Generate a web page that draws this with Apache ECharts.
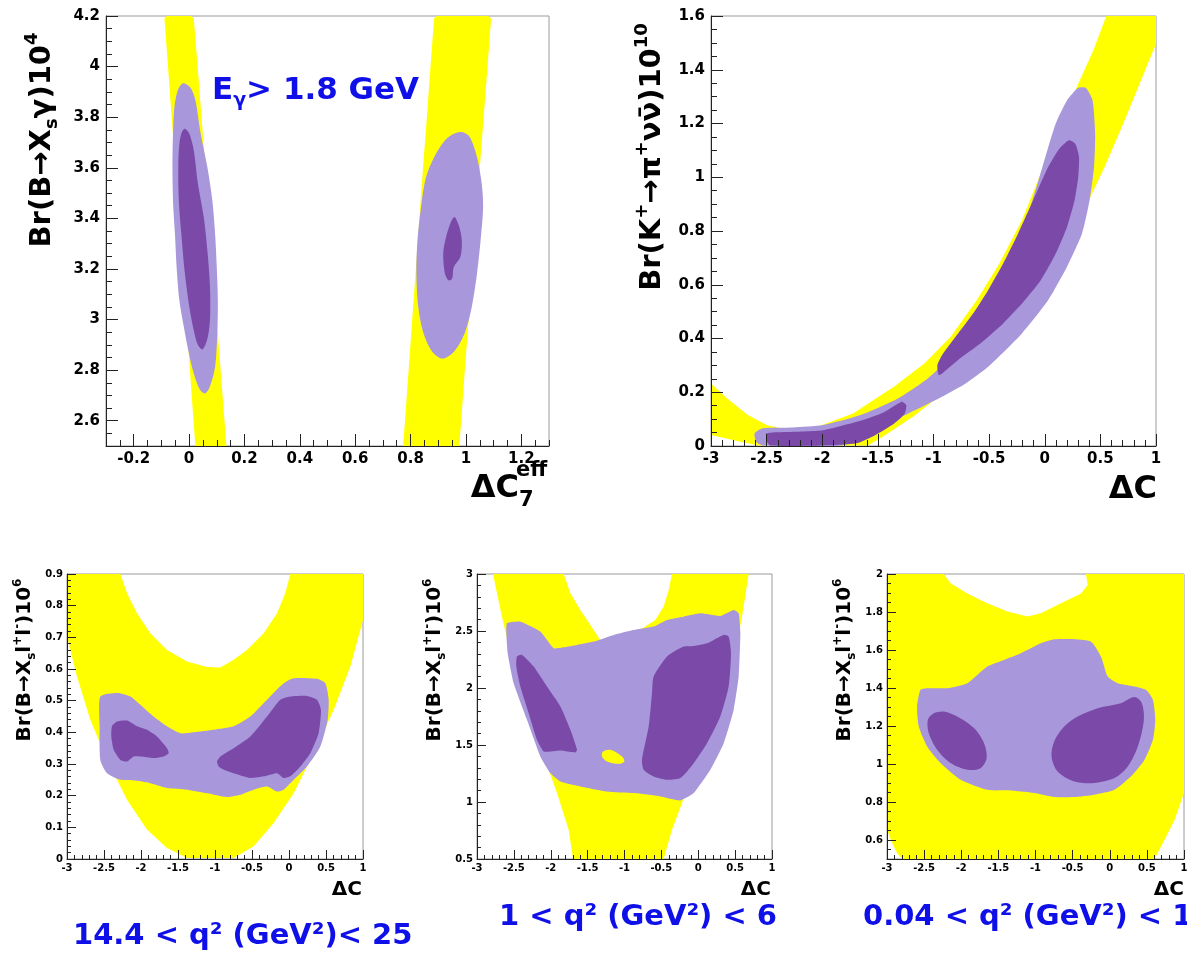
<!DOCTYPE html>
<html>
<head>
<meta charset="utf-8">
<script src="https://cdn.jsdelivr.net/npm/echarts@6/dist/echarts.min.js"></script>
<style>
  html, body { margin: 0; padding: 0; background: #fff; }
  #chart { width: 1187px; height: 960px; }
</style>
</head>
<body>
<div id="chart"></div>
<script>
// tick labels of each panel
var p1XTicks = [-0.2, 0, 0.2, 0.4, 0.6, 0.8, 1, 1.2];
var p1YTicks = [2.6, 2.8, 3, 3.2, 3.4, 3.6, 3.8, 4, 4.2];
var p2XTicks = [-3, -2.5, -2, -1.5, -1, -0.5, 0, 0.5, 1];
var p2YTicks = [0, 0.2, 0.4, 0.6, 0.8, 1, 1.2, 1.4, 1.6];
var dcTicks = [-3, -2.5, -2, -1.5, -1, -0.5, 0, 0.5, 1];
var p3YTicks = [0, 0.1, 0.2, 0.3, 0.4, 0.5, 0.6, 0.7, 0.8, 0.9];
var p4YTicks = [0.5, 1, 1.5, 2, 2.5, 3];
var p5YTicks = [0.6, 0.8, 1, 1.2, 1.4, 1.6, 1.8, 2];

// panel 1 : Br(B->Xs gamma) vs dC7eff, contour outlines [x, y]
var p1YellowLeft = [[-0.089,4.19],[-0.08,4.2],[0.008,4.2],[0.017,4.19],[0.031,4.0],[0.045,3.8],[0.059,3.6],[0.073,3.4],[0.086,3.2],[0.1,3.0],[0.114,2.8],[0.128,2.6],[0.135,2.5],[0.023,2.5],[0.016,2.6],[0.003,2.8],[-0.01,3.0],[-0.023,3.2],[-0.036,3.4],[-0.049,3.6],[-0.063,3.8],[-0.076,4.0]];
var p1YellowRight = [[0.885,4.19],[0.895,4.2],[1.08,4.2],[1.091,4.19],[1.078,4.0],[1.064,3.8],[1.05,3.6],[1.037,3.4],[1.024,3.2],[1.01,3.0],[0.996,2.8],[0.983,2.6],[0.976,2.5],[0.773,2.5],[0.78,2.6],[0.793,2.8],[0.806,3.0],[0.819,3.2],[0.832,3.4],[0.845,3.6],[0.859,3.8],[0.872,4.0]];
var p1LightLeft = [[-0.022,3.934],[0.004,3.918],[0.023,3.866],[0.042,3.734],[0.066,3.603],[0.084,3.471],[0.094,3.339],[0.1,3.208],[0.104,3.076],[0.102,2.945],[0.094,2.813],[0.075,2.734],[0.058,2.708],[0.04,2.721],[0.017,2.787],[-0.003,2.879],[-0.019,2.971],[-0.035,3.076],[-0.045,3.208],[-0.051,3.339],[-0.058,3.471],[-0.06,3.603],[-0.058,3.734],[-0.053,3.839],[-0.041,3.905]];
var p1DarkLeft = [[-0.015,3.754],[0.001,3.734],[0.017,3.668],[0.032,3.537],[0.053,3.405],[0.066,3.274],[0.075,3.142],[0.076,3.011],[0.068,2.932],[0.049,2.882],[0.032,2.899],[0.017,2.958],[0.001,3.05],[-0.015,3.182],[-0.028,3.339],[-0.037,3.471],[-0.039,3.603],[-0.035,3.695],[-0.026,3.741]];
var p1LightRight = [[0.985,3.741],[1.014,3.721],[1.04,3.642],[1.057,3.537],[1.062,3.445],[1.053,3.313],[1.04,3.182],[1.021,3.05],[0.995,2.945],[0.956,2.872],[0.915,2.846],[0.879,2.872],[0.847,2.945],[0.828,3.05],[0.821,3.182],[0.825,3.313],[0.838,3.445],[0.856,3.563],[0.885,3.642],[0.924,3.708],[0.956,3.734]];
var p1DarkRight = [[0.959,3.405],[0.976,3.366],[0.985,3.313],[0.98,3.247],[0.956,3.208],[0.95,3.161],[0.937,3.155],[0.924,3.182],[0.918,3.261],[0.928,3.326],[0.946,3.386]];

// panel 2 : Br(K+ -> pi+ nu nubar) vs dC
var p2Yellow = [[-3.0,0.233],[-2.838,0.171],[-2.669,0.115],[-2.5,0.078],[-2.298,0.059],[-2.062,0.069],[-1.724,0.121],[-1.353,0.221],[-1.083,0.307],[-0.847,0.406],[-0.61,0.543],[-0.408,0.679],[-0.205,0.84],[-0.036,1.014],[0.133,1.187],[0.301,1.348],[0.436,1.472],[0.554,1.6],[1.0,1.6],[1.0,1.497],[0.841,1.336],[0.706,1.2],[0.538,1.038],[0.369,0.89],[0.2,0.753],[0.031,0.629],[-0.171,0.506],[-0.374,0.406],[-0.644,0.295],[-0.914,0.196],[-1.184,0.109],[-1.454,0.035],[-1.589,0.002],[-2.568,0.002],[-2.737,0.016],[-2.872,0.029],[-3.0,0.041]];
var p2Light = [[-2.608,0.047],[-2.534,0.066],[-2.264,0.069],[-1.994,0.078],[-1.657,0.115],[-1.319,0.177],[-1.049,0.252],[-0.813,0.344],[-0.644,0.431],[-0.475,0.555],[-0.306,0.704],[-0.138,0.878],[-0.003,1.063],[0.099,1.2],[0.2,1.286],[0.301,1.333],[0.369,1.333],[0.43,1.286],[0.453,1.162],[0.443,1.038],[0.403,0.914],[0.335,0.791],[0.2,0.667],[0.031,0.543],[-0.205,0.419],[-0.509,0.295],[-0.711,0.233],[-0.981,0.171],[-1.285,0.109],[-1.589,0.047],[-1.825,0.002],[-2.534,0.002],[-2.595,0.016]];
var p2DarkUpper = [[-0.965,0.301],[-0.914,0.344],[-0.779,0.419],[-0.644,0.493],[-0.509,0.58],[-0.374,0.679],[-0.239,0.791],[-0.104,0.914],[0.031,1.038],[0.133,1.107],[0.217,1.138],[0.274,1.125],[0.308,1.076],[0.301,1.001],[0.268,0.914],[0.2,0.815],[0.099,0.716],[-0.036,0.617],[-0.205,0.53],[-0.374,0.456],[-0.576,0.382],[-0.779,0.32],[-0.914,0.273],[-0.954,0.264]];
var p2DarkLower = [[-2.5,0.047],[-2.332,0.052],[-1.994,0.059],[-1.657,0.094],[-1.454,0.124],[-1.285,0.165],[-1.245,0.152],[-1.258,0.121],[-1.353,0.084],[-1.522,0.041],[-1.69,0.01],[-1.994,0.002],[-2.467,0.002],[-2.5,0.02]];

// panel 3 : Br(B->Xs l+l-), 14.4 < q2 < 25
var p3Yellow = [[-3,0.9],[-3,0.702],[-2.865,0.576],[-2.685,0.44],[-2.459,0.313],[-2.189,0.187],[-1.919,0.093],[-1.649,0.035],[-1.378,0.003],[-0.748,0.003],[-0.477,0.04],[-0.207,0.114],[0.063,0.208],[0.333,0.334],[0.604,0.471],[0.829,0.608],[1.0,0.755],[1.0,0.9],[0.018,0.9],[-0.05,0.839],[-0.162,0.776],[-0.342,0.713],[-0.568,0.66],[-0.748,0.629],[-0.928,0.605],[-1.108,0.606],[-1.378,0.624],[-1.649,0.66],[-1.874,0.713],[-2.054,0.776],[-2.189,0.839],[-2.279,0.9]];
var p3Light = [[-2.55,0.513],[-2.324,0.524],[-2.144,0.513],[-2.009,0.487],[-1.829,0.45],[-1.649,0.419],[-1.468,0.397],[-1.288,0.4],[-1.018,0.408],[-0.748,0.419],[-0.523,0.45],[-0.297,0.503],[-0.072,0.555],[0.063,0.571],[0.378,0.569],[0.491,0.555],[0.536,0.503],[0.523,0.44],[0.423,0.355],[0.243,0.292],[0.063,0.25],[-0.072,0.219],[-0.162,0.213],[-0.297,0.229],[-0.477,0.219],[-0.658,0.203],[-0.838,0.196],[-1.108,0.208],[-1.378,0.219],[-1.649,0.224],[-1.919,0.242],[-2.099,0.248],[-2.279,0.25],[-2.459,0.271],[-2.55,0.313],[-2.559,0.419]];
var p3DarkLeft = [[-2.392,0.419],[-2.324,0.434],[-2.189,0.437],[-2.054,0.419],[-1.919,0.408],[-1.784,0.387],[-1.649,0.35],[-1.626,0.334],[-1.694,0.324],[-1.829,0.319],[-2.009,0.324],[-2.099,0.324],[-2.189,0.308],[-2.279,0.313],[-2.369,0.345],[-2.401,0.387]];
var p3DarkRight = [[-0.973,0.308],[-0.928,0.324],[-0.748,0.35],[-0.523,0.387],[-0.297,0.45],[-0.117,0.503],[0.018,0.513],[0.243,0.515],[0.378,0.503],[0.432,0.471],[0.4,0.397],[0.288,0.334],[0.153,0.292],[0.018,0.261],[-0.072,0.256],[-0.162,0.271],[-0.342,0.261],[-0.523,0.256],[-0.748,0.271],[-0.883,0.282],[-0.95,0.292]];

// panel 4 : 1 < q2 < 6
var p4Yellow = [[-2.783,3.0],[-2.729,2.831],[-2.661,2.626],[-2.548,2.305],[-2.367,1.896],[-2.141,1.487],[-1.915,1.078],[-1.757,0.757],[-1.698,0.5],[-0.469,0.5],[-0.356,0.757],[-0.153,1.107],[0.073,1.458],[0.299,1.867],[0.48,2.246],[0.593,2.626],[0.684,3.0],[-0.356,3.0],[-0.401,2.86],[-0.469,2.714],[-0.582,2.597],[-0.876,2.474],[-1.102,2.445],[-1.328,2.422],[-1.463,2.553],[-1.599,2.685],[-1.734,2.831],[-1.825,3.0]];
var p4Light = [[-2.593,2.568],[-2.412,2.582],[-2.141,2.495],[-1.96,2.349],[-1.825,2.357],[-1.644,2.378],[-1.418,2.407],[-1.147,2.466],[-0.876,2.509],[-0.605,2.539],[-0.424,2.597],[-0.198,2.626],[0.028,2.655],[0.299,2.632],[0.48,2.685],[0.548,2.656],[0.571,2.48],[0.548,2.1],[0.48,1.808],[0.345,1.516],[0.164,1.283],[-0.062,1.078],[-0.243,1.014],[-0.514,1.049],[-0.876,1.078],[-1.237,1.093],[-1.599,1.137],[-1.87,1.18],[-2.006,1.254],[-2.141,1.4],[-2.322,1.721],[-2.503,2.042],[-2.584,2.305],[-2.602,2.48]];
var p4Hole = [[-1.292,1.443],[-1.192,1.458],[-1.034,1.4],[-1.002,1.356],[-1.079,1.335],[-1.237,1.356],[-1.305,1.4]];
var p4DarkLeft = [[-2.458,2.276],[-2.39,2.29],[-2.232,2.188],[-2.051,2.013],[-1.87,1.838],[-1.734,1.633],[-1.644,1.458],[-1.667,1.435],[-1.87,1.452],[-2.006,1.443],[-2.096,1.443],[-2.186,1.546],[-2.299,1.779],[-2.412,2.013],[-2.467,2.188]];
var p4DarkRight = [[-0.605,2.1],[-0.424,2.276],[-0.198,2.363],[-0.062,2.369],[0.119,2.393],[0.345,2.466],[0.412,2.451],[0.444,2.305],[0.412,2.013],[0.299,1.75],[0.119,1.516],[-0.062,1.341],[-0.243,1.21],[-0.424,1.195],[-0.605,1.224],[-0.74,1.283],[-0.763,1.37],[-0.672,1.662],[-0.627,1.954]];

// panel 5 : 0.04 < q2 < 1
var p5Yellow = [[-3,2.0],[-2.234,2.0],[-2.144,1.951],[-1.919,1.898],[-1.649,1.846],[-1.378,1.802],[-1.108,1.776],[-0.928,1.793],[-0.658,1.846],[-0.387,1.898],[-0.297,1.942],[-0.32,2.0],[1.0,2.0],[1.0,0.847],[0.874,0.707],[0.739,0.602],[0.604,0.5],[-2.797,0.5],[-2.865,0.532],[-2.932,0.584],[-3.0,0.654]];
var p5Light = [[-2.55,1.39],[-2.459,1.399],[-2.189,1.399],[-1.919,1.425],[-1.649,1.513],[-1.423,1.548],[-1.198,1.583],[-0.928,1.635],[-0.748,1.656],[-0.523,1.658],[-0.252,1.644],[-0.117,1.565],[-0.027,1.46],[0.108,1.425],[0.333,1.408],[0.491,1.39],[0.581,1.338],[0.613,1.232],[0.581,1.127],[0.468,1.022],[0.288,0.935],[0.063,0.864],[-0.207,0.838],[-0.477,0.826],[-0.748,0.826],[-1.018,0.847],[-1.288,0.859],[-1.649,0.864],[-2.009,0.917],[-2.279,1.005],[-2.459,1.092],[-2.572,1.197],[-2.595,1.303]];
var p5DarkLeft = [[-2.369,1.267],[-2.234,1.276],[-2.054,1.25],[-1.829,1.189],[-1.694,1.11],[-1.658,1.031],[-1.739,0.978],[-1.919,0.97],[-2.144,1.005],[-2.324,1.075],[-2.437,1.162],[-2.45,1.232]];
var p5DarkRight = [[0.153,1.32],[0.333,1.352],[0.432,1.32],[0.459,1.232],[0.378,1.092],[0.243,0.987],[0.063,0.926],[-0.207,0.9],[-0.477,0.908],[-0.703,0.961],[-0.784,1.04],[-0.748,1.119],[-0.613,1.197],[-0.432,1.25],[-0.162,1.294]];

var YELLOW = '#ffff00', LIGHT = '#a897da', DARK = '#7b49a8', BLUE = '#0f0fe8';
var FONT = 'DejaVu Sans';

var chart = echarts.init(document.getElementById('chart'));

var grids = [
  { left: 106, top: 16, width: 443, height: 430 },
  { left: 711, top: 16, width: 445, height: 430 },
  { left: 67, top: 574, width: 296, height: 285 },
  { left: 477, top: 574, width: 295, height: 285 },
  { left: 887, top: 574, width: 297, height: 285 }
];
grids.forEach(function (g) {
  g.show = true; g.borderColor = '#9a9a9a'; g.borderWidth = 1;
  g.backgroundColor = 'transparent'; g.outerBoundsMode = 'none'; g.containLabel = false;
});

function steps(min, max, step) {
  var out = [];
  var n = Math.round((max - min) / step);
  for (var i = 0; i <= n; i++) out.push(Math.round((min + i * step) * 1000) / 1000);
  return out;
}

var xAxes = [], yAxes = [];
function addAxes(list, g, pos, min, max, majors, minorStep, big) {
  var fmt = function (v) { return String(Math.round(v * 1000) / 1000); };
  list.push({
    type: 'value', gridIndex: g, position: pos, min: min, max: max, z: 10,
    axisLine: { show: true, onZero: false, lineStyle: { color: '#222', width: 1 } },
    axisTick: { show: true, inside: true, length: big ? 12 : 9, customValues: majors, lineStyle: { color: '#222' } },
    axisLabel: { show: true, customValues: majors, formatter: fmt, showMinLabel: true, showMaxLabel: true,
      fontFamily: FONT, fontWeight: 'bold', fontSize: big ? 15 : 10, color: '#000', margin: big ? 6 : 4 },
    splitLine: { show: false }
  });
  list.push({
    type: 'value', gridIndex: g, position: pos, min: min, max: max, z: 10,
    axisLine: { show: false, onZero: false },
    axisTick: { show: true, inside: true, length: big ? 6 : 4, customValues: steps(min, max, minorStep), lineStyle: { color: '#222' } },
    axisLabel: { show: false },
    splitLine: { show: false }
  });
}
addAxes(xAxes, 0, 'bottom', -0.3, 1.3, p1XTicks, 0.05, true);
addAxes(yAxes, 0, 'left', 2.5, 4.2, p1YTicks, 0.05, true);
addAxes(xAxes, 1, 'bottom', -3, 1, p2XTicks, 0.1, true);
addAxes(yAxes, 1, 'left', 0, 1.6, p2YTicks, 0.05, true);
addAxes(xAxes, 2, 'bottom', -3, 1, dcTicks, 0.1, false);
addAxes(yAxes, 2, 'left', 0, 0.9, p3YTicks, 0.02, false);
addAxes(xAxes, 3, 'bottom', -3, 1, dcTicks, 0.1, false);
addAxes(yAxes, 3, 'left', 0.5, 3, p4YTicks, 0.1, false);
addAxes(xAxes, 4, 'bottom', -3, 1, dcTicks, 0.1, false);
addAxes(yAxes, 4, 'left', 0.5, 2, p5YTicks, 0.05, false);

function region(g, pts, color, smooth) {
  return {
    type: 'custom', xAxisIndex: 2 * g, yAxisIndex: 2 * g, data: pts, clip: true, silent: true, z: 2,
    renderItem: function (params, api) {
      if (params.dataIndex !== 0) return null;
      return {
        type: 'polygon',
        shape: { points: pts.map(function (p) { return api.coord(p); }), smooth: smooth || 0 },
        style: { fill: color }
      };
    }
  };
}

var series = [
  region(0, p1YellowLeft, YELLOW), region(0, p1YellowRight, YELLOW),
  region(0, p1LightLeft, LIGHT, 0.3), region(0, p1LightRight, LIGHT, 0.3),
  region(0, p1DarkLeft, DARK, 0.3), region(0, p1DarkRight, DARK, 0.3),
  region(1, p2Yellow, YELLOW), region(1, p2Light, LIGHT, 0.2),
  region(1, p2DarkUpper, DARK, 0.2), region(1, p2DarkLower, DARK, 0.2),
  region(2, p3Yellow, YELLOW), region(2, p3Light, LIGHT, 0.2),
  region(2, p3DarkLeft, DARK, 0.2), region(2, p3DarkRight, DARK, 0.2),
  region(3, p4Yellow, YELLOW), region(3, p4Light, LIGHT, 0.15),
  region(3, p4DarkLeft, DARK, 0.2), region(3, p4DarkRight, DARK, 0.2), region(3, p4Hole, YELLOW, 0.3),
  region(4, p5Yellow, YELLOW), region(4, p5Light, LIGHT, 0.2),
  region(4, p5DarkLeft, DARK, 0.3), region(4, p5DarkRight, DARK, 0.3)
];

// rich text styles for titles with sub/superscripts
function rich(size, color) {
  var s = Math.round(size * 0.62);
  return {
    m: { fontSize: size, fontFamily: FONT, fontWeight: 'bold', fill: color, lineHeight: Math.round(size * 1.3), verticalAlign: 'middle' },
    sup: { fontSize: s, fontFamily: FONT, fontWeight: 'bold', fill: color, lineHeight: s, verticalAlign: 'top' },
    sub: { fontSize: s, fontFamily: FONT, fontWeight: 'bold', fill: color, lineHeight: s, verticalAlign: 'bottom' }
  };
}
function txt(x, y, text, size, color, align, rot) {
  return {
    type: 'text', x: x, y: y, rotation: rot || 0, silent: true, z: 20,
    style: { text: text, rich: rich(size, color), fontSize: size, fontFamily: FONT, fontWeight: 'bold',
      fill: color, align: align || 'left', verticalAlign: 'middle' }
  };
}
var R = Math.PI / 2;
var bTitle = '{m|Br(B→X}{sub|s}{m|l}{sup|+}{m|l}{sup|-}{m|)10}{sup|6}';

var graphics = [
  txt(42, 140, '{m|Br(B→X}{sub|s}{m|γ)10}{sup|4}', 29, '#000', 'center', R),
  txt(519, 489, '{m|ΔC}', 32, '#000', 'right'),
  txt(516, 471, '{m|eff}', 21, '#000', 'left'),
  txt(519, 501, '{m|7}', 21, '#000', 'left'),
  txt(212, 91, '{m|E}{sub|γ}{m|> 1.8 GeV}', 31, BLUE, 'left'),
  txt(652, 157, '{m|Br(K}{sup|+}{m|→π}{sup|+}{m|νν̄)10}{sup|10}', 29, '#000', 'center', R),
  txt(1157, 490, '{m|ΔC}', 32, '#000', 'right'),
  txt(25, 660, bTitle, 20, '#000', 'center', R),
  txt(435, 660, bTitle, 20, '#000', 'center', R),
  txt(845, 660, bTitle, 20, '#000', 'center', R),
  txt(362, 890, '{m|ΔC}', 20, '#000', 'right'),
  txt(771, 890, '{m|ΔC}', 20, '#000', 'right'),
  txt(1184, 890, '{m|ΔC}', 20, '#000', 'right'),
  txt(73, 936, '{m|14.4 < q² (GeV²)< 25}', 29, BLUE, 'left'),
  txt(499, 917, '{m|1 < q² (GeV²) < 6}', 29, BLUE, 'left'),
  txt(863, 917, '{m|0.04 < q² (GeV²) < 1}', 29, BLUE, 'left')
];

chart.setOption({
  backgroundColor: '#fff',
  animation: false,
  grid: grids,
  xAxis: xAxes,
  yAxis: yAxes,
  series: series,
  graphic: { elements: graphics }
});
</script>
</body>
</html>
